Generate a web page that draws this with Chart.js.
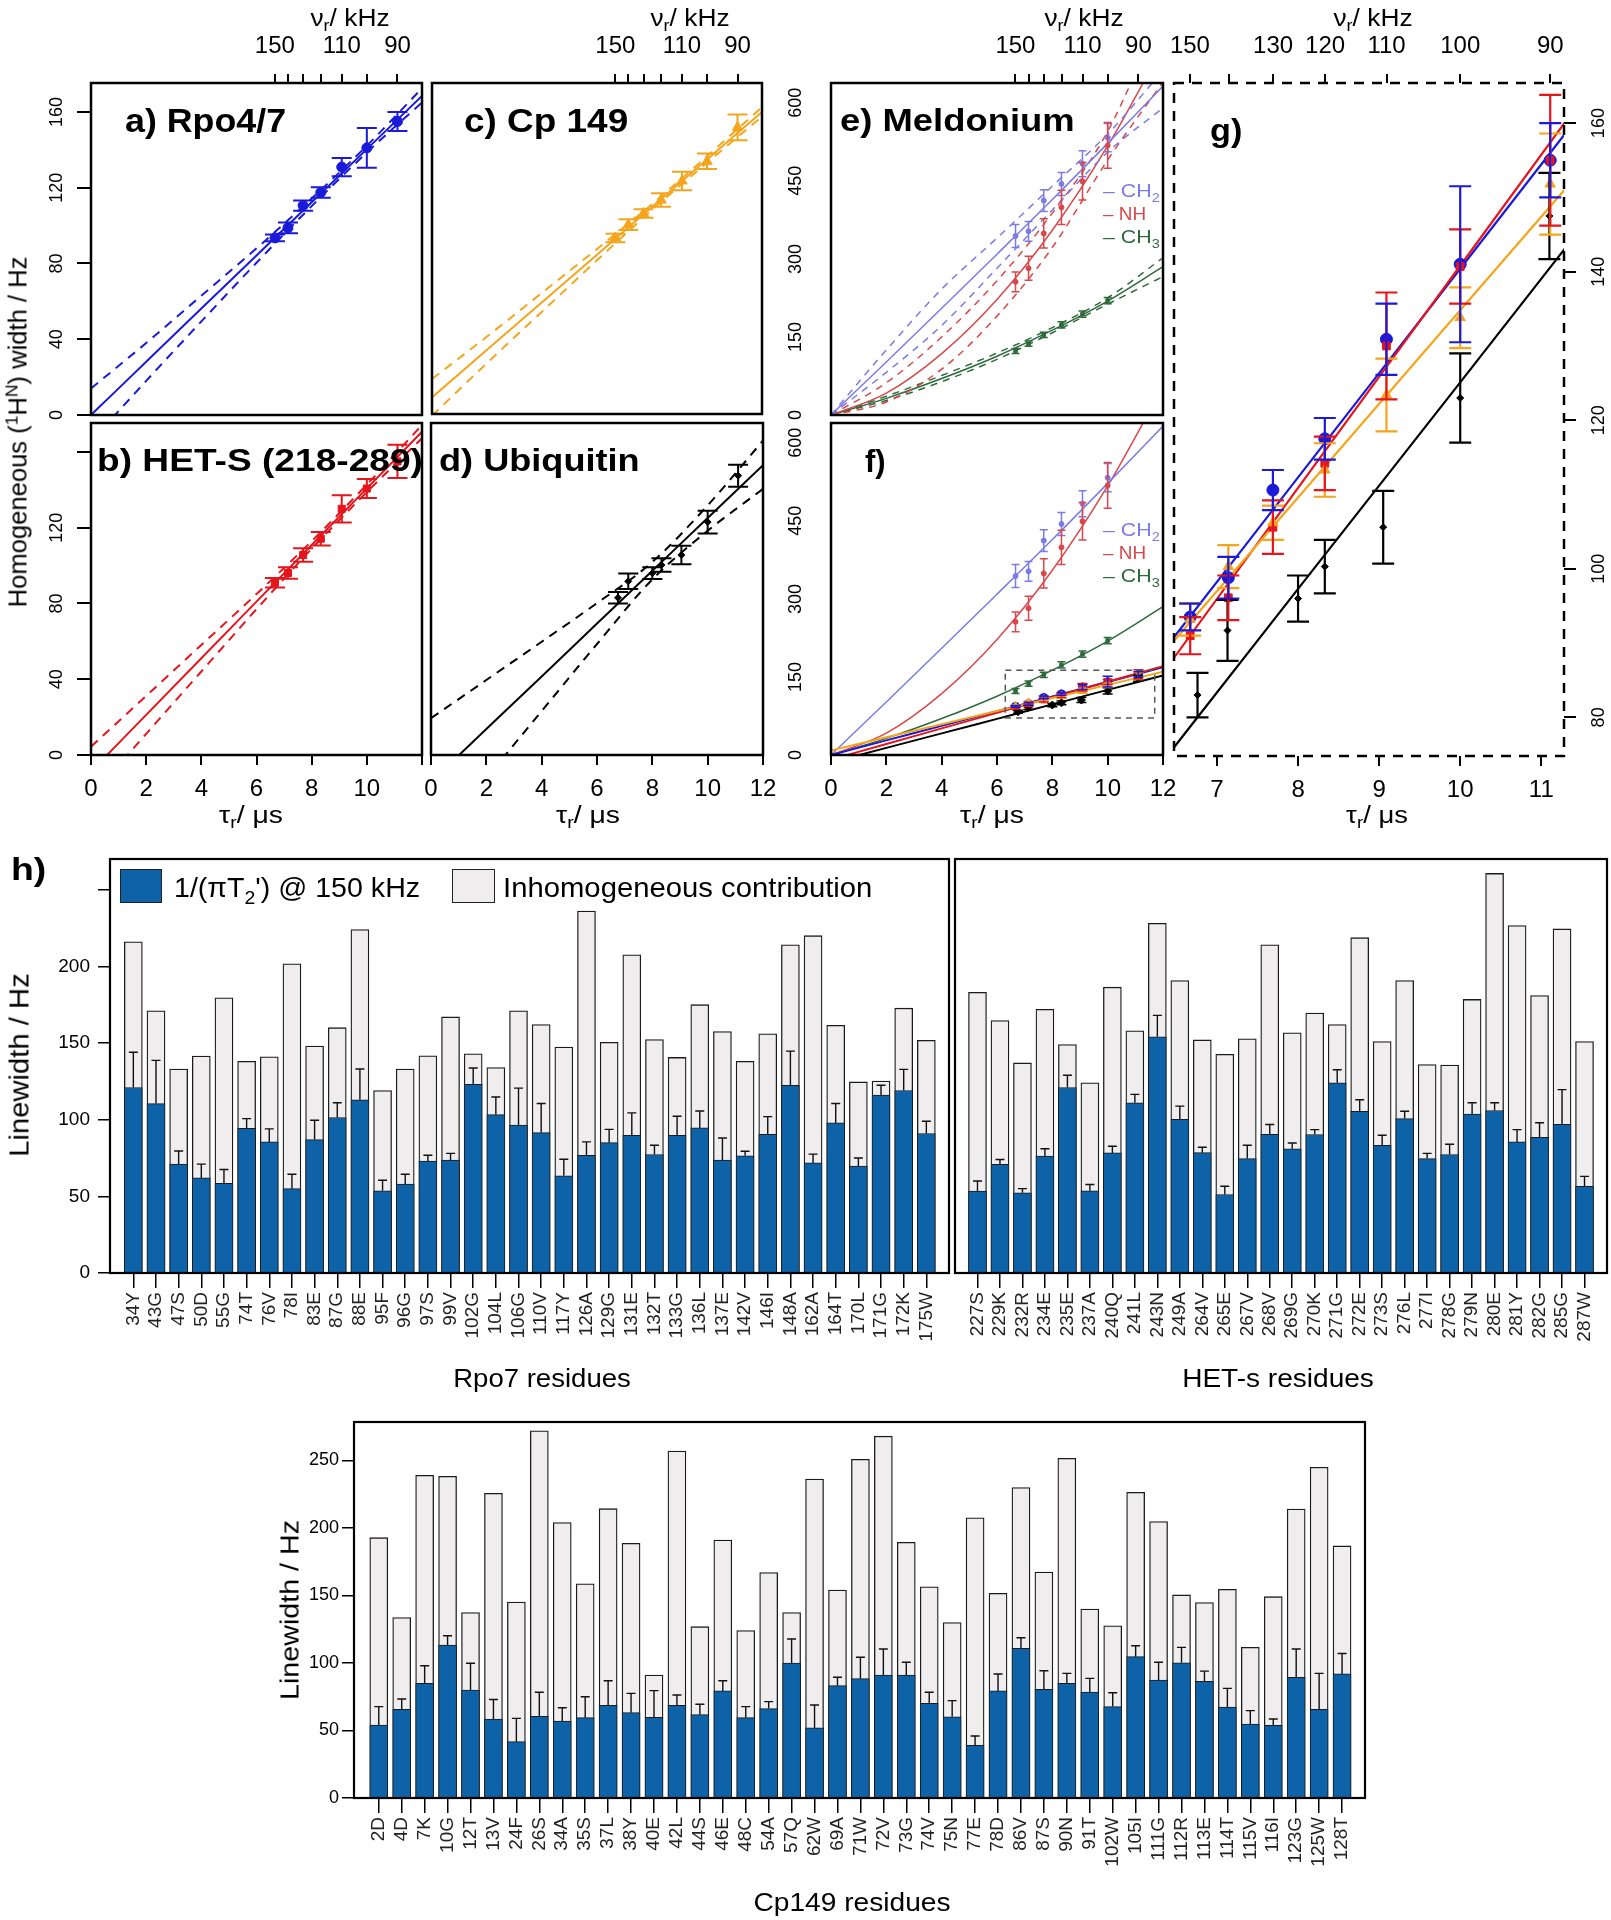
<!DOCTYPE html>
<html>
<head>
<meta charset="utf-8">
<script src="https://cdn.jsdelivr.net/npm/chart.js@4.4.1/dist/chart.umd.min.js"></script>
<style>
  html, body { margin: 0; padding: 0; background: #fff; }
  #page { position: relative; width: 1611px; height: 1920px; overflow: hidden; background: #fff; }
  sub, sup { font-size: 0.68em; line-height: 0; }
</style>
</head>
<body>
<div id="page"></div>
<script>
// ---- data: panels a-g (tau in microseconds, widths in Hz) ----
const kHzTicks = [150, 140, 130, 120, 110, 100, 90];
const tauGrid = [0, 2, 4, 6, 8, 10, 12];
const tauProt = [6.67, 7.14, 7.69, 8.33, 9.09, 10.0, 11.11];
const tauUbi = [6.76, 7.13, 8.0, 8.33, 9.05, 10.0, 11.1];
const tauMel = [6.67, 7.14, 7.69, 8.33, 9.09, 10.0];

const rpoW = [93.5, 98.8, 110.6, 117.5, 130.9, 141.0, 155.0];
const rpoErr = [1.8, 2.8, 2.7, 2.8, 4.8, 10.5, 5.0];
const hetW = [91.0, 96.1, 105.6, 114.2, 130.0, 140.7, 155.0];
const hetErr = [2.5, 3.0, 3.6, 3.6, 7.2, 5.0, 8.8];
const cpW = [93.2, 100.3, 106.2, 113.3, 123.4, 133.8, 151.8];
const cpErr = [2.2, 2.9, 2.3, 3.6, 4.9, 4.1, 6.8];
const ubiW = [83.0, 91.7, 96.0, 100.3, 105.6, 123.0, 147.5];
const ubiErr = [3.0, 4.1, 3.1, 3.6, 4.9, 6.0, 5.8];

const rpoFit = [0, 28.1, 56.2, 84.2, 112.3, 140.4, 168.5];
const rpoUp = [14, 38, 63, 88, 114.3, 142.2, 172.5];
const rpoLo = [-14, 18, 49.4, 80.4, 110.3, 138.6, 165];
const hetFit = [-8.7, 21.2, 51.1, 81.0, 110.9, 140.8, 170.7];
const hetUp = [4.4, 31.2, 58.1, 85, 112.9, 142.8, 174.2];
const hetLo = [-21.8, 11.2, 44.1, 77, 108.9, 138.8, 167.2];
const cpFit = [8.8, 34, 59.2, 84.4, 109.6, 134.8, 160];
const cpUp = [18.5, 41, 64.2, 87.4, 111.1, 136.5, 162.5];
const cpLo = [-0.9, 27, 54.2, 81.4, 108.1, 133.1, 157.5];
const ubiFit = [-14.2, 13.7, 41.5, 69.4, 97.3, 125.1, 153];
const ubiUp = [19.4, 39.6, 59.8, 80.2, 101.9, 131.8, 166];
const ubiLo = [-47.8, -12.2, 23.2, 58.6, 92.7, 118.4, 140.5];

const ch2W = [344, 353, 412, 444, 483, 533];
const ch2Err = [22, 19, 21, 22, 25, 27];
const nhW = [256, 282, 349, 399, 449, 518];
const nhErr = [19, 23, 28, 33, 36, 44];
const ch3W = [123, 137, 154, 173, 194, 220];
const ch3Err = [5, 5, 5, 6, 6, 6];
const ch2Fit = [0, 102, 205, 309, 414, 522, 632];
const ch2Up = [0, 125, 242, 340, 440, 540, 662];
const ch2Lo = [0, 82, 172, 282, 394, 505, 590];
const nhFit = [0, 42, 118, 222, 355, 517, 708];
const nhUp = [0, 62, 150, 258, 388, 545, 780];
const nhLo = [0, 25, 88, 190, 322, 490, 640];
const ch3Fit = [0, 32, 70, 113, 163, 219, 285];
const ch3Up = [0, 36, 76, 119, 168, 225, 302];
const ch3Lo = [0, 28, 64, 107, 158, 213, 266];
const zoomBox = [6.3, 11.7, 71, 163];

// ---- data: panel h (linewidths in Hz) ----
const rpoRes = ['34Y','43G','47S','50D','55G','74T','76V','78I','83E','87G','88E','95F','96G','97S','99V','102G','104L','106G','110V','117Y','126A','129G','131E','132T','133G','136L','137E','142V','146I','148A','162A','164T','170L','171G','172K','175W'];
const rpoHomo = [121,110.5,71,62,58.4,94.4,85.5,55,87,101.4,113,53.6,58,73,73.6,123,103.3,96.4,91.6,63.4,76.8,85,89.8,77.3,89.8,94.6,73.6,76.4,90.5,122.4,71.8,97.9,69.7,116,119,91];
const rpoErrTop = [144,138.7,79.6,71,67.5,100.7,94,64.4,99.6,111,133,60.5,64.4,76.8,78,133.7,114.8,120.6,110.5,74.2,85.5,93.7,104.4,83.3,102.2,105.7,88,79.4,102,144.7,77.5,110.5,75,122.4,132.8,99];
const rpoTotal = [216,171,133,141.5,179.5,138,141,201.6,148,160,224,119,133,141.7,167,143,134,171,162,147.3,236,150.4,207.5,152.3,140.6,175,157.5,138,156,214,220,161.5,124.6,125.2,172.7,151.7];

const hetRes = ['227S','229K','232R','234E','235E','237A','240Q','241L','243N','249A','264V','265E','267V','268V','269G','270K','271G','272E','273S','276L','277I','278G','279N','280E','281Y','282G','285G','287W'];
const hetHomo = [53.4,70.8,52.3,76.2,121,53.6,78.3,111,154,100.3,78.5,51.2,74.6,90.5,81,90.3,124,105.5,83.3,100.7,74.6,77.3,103.6,106,85.5,88.5,97,56.6];
const hetErrTop = [60,74,55,81,129,57.7,82.7,116.5,168,108.8,82,56.6,83.3,96.8,84.8,93.5,132.6,113,89.8,105.5,78,84,111,111,93.5,98,119.6,63];
const hetTotal = [183,164.7,137,172,149,124,186.4,158,228,190.7,152,142.6,152.8,214,156.7,169.5,162,218.7,151,190.7,136,135.6,178.4,260.6,226.6,181,224.4,151];

const cpRes = ['2D','4D','7K','10G','12T','13V','24F','26S','34A','35S','37L','38Y','40E','42L','44S','46E','48C','54A','57Q','62W','69A','71W','72V','73G','74V','75N','77E','78D','86V','87S','90N','91T','102W','105I','111G','112R','113E','114T','115V','116I','123G','125W','128T'];
const cpHomo = [54,65.7,85,113.3,80,58.5,41.7,60.5,57,59.5,68.6,63.2,59.8,68.6,61.7,79.3,59.5,66.2,100,51.9,83.2,88.4,91.1,91.1,70.1,60.2,39,79.3,110.9,80.5,85,78.5,67.7,104.7,87.4,100.2,86.4,67.4,54.8,53.8,89.4,65.7,91.9];
const cpErrTop = [67.7,73.3,98,120.2,99.8,73,59,78.3,66.9,75,86.9,77.5,79.5,76.3,69.4,86.9,67.7,71.4,117.8,68.9,89.4,104.2,110.4,100.5,78.3,72.1,45.9,91.9,118.7,94.3,92.3,88.6,78,112.8,100.5,111.6,94,81.2,64.7,58.5,110.4,92.3,107];
const cpTotal = [192.8,133.6,239,238.3,137.3,225.7,145.2,272,204,158.7,214.3,188.6,91,257,126.9,191,124,167,137.3,236.3,154,250.9,268,189.4,156.5,129.9,207.6,151.6,230,167.4,251.6,140,127.6,226.4,204.7,150.4,144.7,154.6,111.6,149.1,214,245,186.7];
const barTicks = [0, 50, 100, 150, 200, 250];

// ---- styles ----
const FONT = '"Liberation Sans", Arial, Helvetica, sans-serif';
const BLUE = '#1a1ad8', RED = '#e4151c', ORANGE = '#f4a51c', BLACK = '#000000';
const CH2C = '#7b7be6', NHC = '#d8474a', CH3C = '#2e6a3c';
const BARBLUE = '#0e62a7', BARGREY = '#efeded';
const DASH = [9, 7];

Chart.defaults.font.family = FONT;
Chart.defaults.color = '#000';
Chart.defaults.animation = false;
Chart.defaults.events = [];
Chart.defaults.plugins.legend.display = false;
Chart.defaults.plugins.tooltip.enabled = false;

const page = document.getElementById('page');

function holder(x, y, w, h) {
  const d = document.createElement('div');
  d.style.cssText = `position:absolute;left:${x}px;top:${y}px;width:${w}px;height:${h}px;`;
  const c = document.createElement('canvas');
  d.appendChild(c);
  page.appendChild(d);
  return c;
}

function fixSize(size) {
  return s => {
    if (s.isHorizontal()) s.height = size; else s.width = size;
    s.paddingLeft = 0; s.paddingRight = 0; s.paddingTop = 0; s.paddingBottom = 0;
  };
}

// error bars, frames, rotated tick labels
const deco = {
  id: 'deco',
  afterDatasetsDraw(chart) {
    const ctx = chart.ctx, a = chart.chartArea;
    chart.data.datasets.forEach((ds, i) => {
      if (!ds.err && !ds.errTop) return;
      const meta = chart.getDatasetMeta(i);
      const ys = chart.scales[meta.yAxisID];
      const cw = ds.capW || 5;
      ctx.save();
      ctx.beginPath();
      ctx.rect(a.left, a.top - 1, a.width, a.height + 2);
      ctx.clip();
      ctx.strokeStyle = ds.errColor || ds.borderColor;
      ctx.lineWidth = ds.errWidth || 1.5;
      meta.data.forEach((el, j) => {
        const v = ds.data[j].y, x = el.x;
        const lo = ds.err ? v - ds.err[j] : v;
        const hi = ds.err ? v + ds.err[j] : ds.errTop[j];
        const y1 = ys.getPixelForValue(lo), y2 = ys.getPixelForValue(hi);
        ctx.beginPath();
        ctx.moveTo(x, y1); ctx.lineTo(x, y2);
        ctx.moveTo(x - cw, y2); ctx.lineTo(x + cw, y2);
        if (ds.err) { ctx.moveTo(x - cw, y1); ctx.lineTo(x + cw, y1); }
        ctx.stroke();
      });
      ctx.restore();
    });
  },
  afterDraw(chart, args, o) {
    const ctx = chart.ctx, a = chart.chartArea;
    ctx.save();
    if (o.box) {
      const xs = chart.scales.x, ys = chart.scales.y;
      const x0 = xs.getPixelForValue(o.box[0]), x1 = xs.getPixelForValue(o.box[1]);
      const y0 = ys.getPixelForValue(o.box[2]), y1 = ys.getPixelForValue(o.box[3]);
      ctx.strokeStyle = '#555'; ctx.lineWidth = 1.5; ctx.setLineDash([6, 5]);
      ctx.strokeRect(x0, y1, x1 - x0, y0 - y1);
    }
    if (o.frame) {
      ctx.strokeStyle = '#000'; ctx.lineWidth = o.frame.w;
      ctx.setLineDash(o.frame.dash || []);
      ctx.strokeRect(a.left, a.top, a.width, a.height);
    }
    if (o.rot) {
      ctx.setLineDash([]);
      ctx.fillStyle = '#000';
      ctx.font = `${o.rot.size}px ${FONT}`;
      ctx.textAlign = 'center'; ctx.textBaseline = 'middle';
      const s = chart.scales[o.rot.scale || 'y'];
      o.rot.values.forEach(v => {
        ctx.save();
        ctx.translate(o.rot.x, s.getPixelForValue(v));
        ctx.rotate(-Math.PI / 2);
        ctx.fillText(String(v), 0, 0);
        ctx.restore();
      });
    }
    ctx.restore();
  }
};

const pts = (xs, ys) => xs.map((x, i) => ({ x, y: ys[i] }));

function pointsDS(xs, ys, err, color, style, r, capW, errW) {
  return { data: pts(xs, ys), err, showLine: false, pointStyle: style, pointRadius: r,
    backgroundColor: color, borderColor: color, borderWidth: 1, capW, errWidth: errW };
}
function lineDS(xs, ys, color, w, dash) {
  return { data: pts(xs, ys), showLine: true, pointRadius: 0, borderColor: color, borderWidth: w,
    borderDash: dash || [], cubicInterpolationMode: 'monotone', clip: 0, fill: false };
}

function scatterPanel(p) {
  const [L, T, R, B] = p.frame, [ml, mt, mr, mb] = p.m;
  const cx = L - ml, cy = T - mt;
  const canvas = holder(cx, cy, R - L + ml + mr, B - T + mt + mb);
  const tickFont = { size: 24 };
  const scales = {
    x: {
      type: 'linear', position: 'bottom', min: p.xr[0], max: p.xr[1], display: !!p.bottom,
      afterFit: p.bottom ? fixSize(mb) : undefined,
      afterBuildTicks: s => { if (p.bottom) s.ticks = p.bottom.ticks.map(v => ({ value: v })); },
      ticks: { autoSkip: false, maxRotation: 0, font: tickFont, padding: 10,
        callback: v => (p.bottom && p.bottom.labels.includes(v)) ? String(v) : '' },
      grid: { drawOnChartArea: false, tickLength: 10, color: '#000', lineWidth: 2 },
      border: { display: false }
    },
    y: {
      type: 'linear', position: 'left', min: p.yr[0], max: p.yr[1], display: !!p.left,
      afterFit: p.left ? fixSize(ml) : undefined,
      afterBuildTicks: s => { if (p.left) s.ticks = p.left.map(v => ({ value: v })); },
      ticks: { display: false },
      grid: { drawOnChartArea: false, tickLength: 14, color: '#000', lineWidth: 2 },
      border: { display: false }
    }
  };
  if (p.top) {
    scales.x2 = {
      type: 'linear', position: 'top', min: p.xr[0], max: p.xr[1],
      afterFit: fixSize(mt),
      afterBuildTicks: s => { s.ticks = kHzTicks.map(k => ({ value: 1000 / k })); },
      ticks: { autoSkip: false, maxRotation: 0, font: tickFont, padding: 13,
        callback: (v, i) => p.top.includes(kHzTicks[i]) ? String(kHzTicks[i]) : '' },
      grid: { drawOnChartArea: false, tickLength: 9, color: '#000', lineWidth: 2 },
      border: { display: false }
    };
  }
  if (p.right) {
    scales.y2 = {
      type: 'linear', position: 'right', min: p.yr[0], max: p.yr[1],
      afterFit: fixSize(mr),
      afterBuildTicks: s => { s.ticks = p.right.map(v => ({ value: v })); },
      ticks: { display: false },
      grid: { drawOnChartArea: false, tickLength: 12, color: '#000', lineWidth: 2 },
      border: { display: false }
    };
  }
  const rot = p.rot ? Object.assign({}, p.rot, { x: p.rot.x - cx }) : null;
  return new Chart(canvas, {
    type: 'scatter',
    data: { datasets: p.datasets },
    options: {
      responsive: true, maintainAspectRatio: false,
      layout: { padding: { left: p.left ? 0 : ml, top: p.top ? 0 : mt, right: p.right ? 0 : mr, bottom: p.bottom ? 0 : mb } },
      scales,
      plugins: { deco: { frame: { w: 2.5, dash: p.dashed ? [10, 8] : null }, rot, box: p.box || null } }
    },
    plugins: [deco]
  });
}

function barPanel(p) {
  const [L, T, R, B] = p.frame, [ml, mt, mr, mb] = p.m;
  const canvas = holder(L - ml, T - mt, R - L + ml + mr, B - T + mt + mb);
  const idx = p.res.map((r, i) => i);
  return new Chart(canvas, {
    type: 'bar',
    data: {
      datasets: [
        { label: "1/(\u03c0T\u2082') @ 150 kHz", data: pts(idx, p.homo), errTop: p.errTop,
          backgroundColor: BARBLUE, borderColor: '#1b1b1b', borderWidth: 1, grouped: false,
          barThickness: 18, capW: 4.5, errWidth: 1.4, errColor: '#111' },
        { label: 'Inhomogeneous contribution', data: pts(idx, p.total),
          backgroundColor: BARGREY, borderColor: '#1b1b1b', borderWidth: 1.3, grouped: false,
          barThickness: 18 }
      ]
    },
    options: {
      responsive: true, maintainAspectRatio: false,
      layout: { padding: { left: p.showY ? 0 : ml, top: mt, right: mr, bottom: 0 } },
      scales: {
        x: {
          type: 'linear', min: p.xr[0], max: p.xr[1], offset: false,
          afterFit: fixSize(mb),
          afterBuildTicks: s => { s.ticks = idx.map(v => ({ value: v })); },
          ticks: { autoSkip: false, minRotation: 90, maxRotation: 90, font: { size: 19 }, color: '#222',
            padding: 4, callback: v => p.res[v] },
          grid: { offset: false, drawOnChartArea: false, tickLength: 15, color: '#000', lineWidth: 1.5 },
          border: { display: false }
        },
        y: {
          type: 'linear', min: 0, max: p.yMax, display: p.showY,
          afterFit: p.showY ? fixSize(ml) : undefined,
          afterBuildTicks: s => { s.ticks = barTicks.map(v => ({ value: v })); },
          ticks: { font: { size: p.yFont }, padding: p.yPad, callback: v => (p.hide || []).includes(v) ? '' : String(v) },
          grid: { drawOnChartArea: false, tickLength: 12, color: '#000', lineWidth: 1.5 },
          border: { display: false }
        }
      },
      plugins: { deco: { frame: { w: 2.2 } } }
    },
    plugins: [deco]
  });
}

// ---- panels a-g ----
scatterPanel({ frame: [91, 83, 422, 415], m: [91, 83, 6, 6], xr: [0, 12], yr: [0, 175.3],
  left: [0, 40, 80, 120, 160], rot: { values: [0, 40, 80, 120, 160], x: 57, size: 18 }, top: [150, 110, 90],
  datasets: [pointsDS(tauProt, rpoW, rpoErr, BLUE, 'circle', 5, 10, 2),
    lineDS(tauGrid, rpoFit, BLUE, 2), lineDS(tauGrid, rpoUp, BLUE, 2, DASH), lineDS(tauGrid, rpoLo, BLUE, 2, DASH)] });

scatterPanel({ frame: [431, 83, 763, 415], m: [6, 83, 6, 6], xr: [0, 12], yr: [0, 175.3], top: [150, 110, 90],
  datasets: [pointsDS(tauProt, cpW, cpErr, ORANGE, 'triangle', 6, 10, 2),
    lineDS(tauGrid, cpFit, ORANGE, 2), lineDS(tauGrid, cpUp, ORANGE, 2, DASH), lineDS(tauGrid, cpLo, ORANGE, 2, DASH)] });

scatterPanel({ frame: [91, 423, 422, 755], m: [91, 6, 6, 80], xr: [0, 12], yr: [0, 175.3],
  left: [0, 40, 80, 120, 160], rot: { values: [0, 40, 80, 120], x: 57, size: 18 },
  bottom: { ticks: [0, 2, 4, 6, 8, 10, 12], labels: [0, 2, 4, 6, 8, 10] },
  datasets: [pointsDS(tauProt, hetW, hetErr, RED, 'rect', 5, 10, 2),
    lineDS(tauGrid, hetFit, RED, 2), lineDS(tauGrid, hetUp, RED, 2, DASH), lineDS(tauGrid, hetLo, RED, 2, DASH)] });

scatterPanel({ frame: [431, 423, 763, 755], m: [20, 6, 20, 80], xr: [0, 12], yr: [0, 175.3],
  bottom: { ticks: [0, 2, 4, 6, 8, 10, 12], labels: [0, 2, 4, 6, 8, 10, 12] },
  datasets: [pointsDS(tauUbi, ubiW, ubiErr, BLACK, 'rectRot', 3.5, 10, 2),
    lineDS(tauGrid, ubiFit, BLACK, 2), lineDS(tauGrid, ubiUp, BLACK, 2, DASH), lineDS(tauGrid, ubiLo, BLACK, 2, DASH)] });

scatterPanel({ frame: [831, 83, 1163, 415], m: [60, 83, 6, 6], xr: [0, 12], yr: [0, 638],
  rot: { values: [0, 150, 300, 450, 600], x: 796, size: 18 }, top: [150, 110, 90],
  datasets: [
    pointsDS(tauMel, ch2W, ch2Err, CH2C, 'circle', 2.5, 4, 1.5),
    pointsDS(tauMel, nhW, nhErr, NHC, 'circle', 2.5, 4, 1.5),
    pointsDS(tauMel, ch3W, ch3Err, CH3C, 'rect', 2.5, 4, 1.5),
    lineDS(tauGrid, ch2Fit, CH2C, 1.5), lineDS(tauGrid, ch2Up, CH2C, 1.5, [7, 6]), lineDS(tauGrid, ch2Lo, CH2C, 1.5, [7, 6]),
    lineDS(tauGrid, nhFit, NHC, 1.5), lineDS(tauGrid, nhUp, NHC, 1.5, [7, 6]), lineDS(tauGrid, nhLo, NHC, 1.5, [7, 6]),
    lineDS(tauGrid, ch3Fit, CH3C, 1.5), lineDS(tauGrid, ch3Up, CH3C, 1.5, [7, 6]), lineDS(tauGrid, ch3Lo, CH3C, 1.5, [7, 6])] });

scatterPanel({ frame: [831, 423, 1163, 755], m: [60, 6, 20, 80], xr: [0, 12], yr: [0, 638],
  rot: { values: [0, 150, 300, 450, 600], x: 796, size: 18 },
  bottom: { ticks: [0, 2, 4, 6, 8, 10, 12], labels: [0, 2, 4, 6, 8, 10, 12] }, box: zoomBox,
  datasets: [
    pointsDS(tauUbi, ubiW, ubiErr, BLACK, 'rectRot', 4, 5, 1.5),
    pointsDS(tauProt, cpW, cpErr, ORANGE, 'triangle', 5, 5, 1.5),
    pointsDS(tauProt, hetW, hetErr, RED, 'rect', 4, 5, 1.5),
    pointsDS(tauProt, rpoW, rpoErr, BLUE, 'circle', 4, 5, 1.5),
    pointsDS(tauMel, ch2W, ch2Err, CH2C, 'circle', 2.5, 4, 1.5),
    pointsDS(tauMel, nhW, nhErr, NHC, 'circle', 2.5, 4, 1.5),
    pointsDS(tauMel, ch3W, ch3Err, CH3C, 'rect', 2.5, 4, 1.5),
    lineDS(tauGrid, ubiFit, BLACK, 2), lineDS(tauGrid, cpFit, ORANGE, 2),
    lineDS(tauGrid, hetFit, RED, 2), lineDS(tauGrid, rpoFit, BLUE, 2),
    lineDS(tauGrid, ch2Fit, CH2C, 1.5), lineDS(tauGrid, nhFit, NHC, 1.5), lineDS(tauGrid, ch3Fit, CH3C, 1.5)] });

scatterPanel({ frame: [1173, 83, 1564, 756], m: [6, 83, 47, 80], xr: [6.47, 11.28], yr: [74.8, 165.4],
  right: [80, 100, 120, 140, 160], rot: { values: [80, 100, 120, 140, 160], x: 1599, size: 18, scale: 'y2' },
  top: [150, 130, 120, 110, 100, 90], dashed: true,
  bottom: { ticks: [7, 8, 9, 10, 11], labels: [7, 8, 9, 10, 11] },
  datasets: [
    pointsDS(tauUbi, ubiW, ubiErr, BLACK, 'rectRot', 3.5, 11, 2.2),
    pointsDS(tauProt, cpW, cpErr, ORANGE, 'triangle', 6, 11, 2.2),
    pointsDS(tauProt, hetW, hetErr, RED, 'rect', 5.5, 11, 2.2),
    pointsDS(tauProt, rpoW, rpoErr, BLUE, 'circle', 6, 11, 2.2),
    lineDS(tauGrid, ubiFit, BLACK, 2.2), lineDS(tauGrid, cpFit, ORANGE, 2.2),
    lineDS(tauGrid, hetFit, RED, 2.2), lineDS(tauGrid, rpoFit, BLUE, 2.2)] });

// ---- panel h ----
barPanel({ frame: [110, 859, 949, 1273], m: [100, 10, 10, 100], res: rpoRes, homo: rpoHomo, errTop: rpoErrTop,
  total: rpoTotal, xr: [-1.03, 36.0], yMax: 270, showY: true, yPad: 8, yFont: 19, hide: [250] });
barPanel({ frame: [955, 859, 1607, 1273], m: [10, 10, 4, 100], res: hetRes, homo: hetHomo, errTop: hetErrTop,
  total: hetTotal, xr: [-1.0, 28.0], yMax: 270, showY: false, yPad: 8, yFont: 19 });
barPanel({ frame: [354, 1422, 1365, 1798], m: [100, 10, 10, 100], res: cpRes, homo: cpHomo, errTop: cpErrTop,
  total: cpTotal, xr: [-1.08, 43.0], yMax: 278.5, showY: true, yPad: 3, yFont: 18 });

// ---- text ----
function label(html, o) {
  const d = document.createElement('div');
  d.innerHTML = html;
  d.style.cssText = `position:absolute;white-space:nowrap;line-height:1;font-family:${FONT};` +
    `font-size:${o.size}px;font-weight:${o.bold ? 700 : 400};color:${o.color || '#000'};left:${o.x}px;top:${o.y}px;`;
  page.appendChild(d);
  const s = o.w ? o.w / d.offsetWidth : 1;
  if (o.base) {
    d.style.top = (o.y - 0.85 * o.size) + 'px';
    d.style.transformOrigin = '0 0';
    d.style.transform = `scaleX(${s})`;
  } else if (o.left) {
    d.style.top = (o.y - 0.5 * o.size) + 'px';
    d.style.transformOrigin = '0 50%';
    d.style.transform = `scaleX(${s})`;
  } else {
    d.style.transform = `translate(-50%,-50%)${o.rot ? ' rotate(-90deg)' : ''} scaleX(${s})`;
  }
  return d;
}
function swatch(x, y, w, h, color) {
  const d = document.createElement('div');
  d.style.cssText = `position:absolute;left:${x}px;top:${y}px;width:${w}px;height:${h}px;` +
    `background:${color};border:1.5px solid #222;box-sizing:border-box;`;
  page.appendChild(d);
}

[350, 690, 1084, 1373].forEach(x => label('\u03bd<sub>r</sub>/ kHz', { x, y: 18, size: 23, w: 79 }));
[[251, 64], [588, 64], [992, 64], [1377, 62]].forEach(([x, w]) => label('\u03c4<sub>r</sub>/ \u03bcs', { x, y: 815, size: 23, w }));
label('Homogeneous (<sup>1</sup>H<sup>N</sup>) width / Hz', { x: 18, y: 432, size: 25, w: 351, rot: true });

label('a) Rpo4/7', { x: 125, y: 131.7, size: 34, bold: true, w: 161, base: true });
label('c) Cp 149', { x: 464, y: 131.7, size: 34, bold: true, w: 164, base: true });
label('b) HET-S (218-289)', { x: 97, y: 470.7, size: 32, bold: true, w: 326, base: true });
label('d) Ubiquitin', { x: 439, y: 470.7, size: 32, bold: true, w: 201, base: true });
label('e) Meldonium', { x: 840, y: 131.7, size: 31, bold: true, w: 235, base: true });
label('f)', { x: 865, y: 472, size: 31, bold: true, w: 21, base: true });
label('g)', { x: 1210, y: 141, size: 31, bold: true, w: 32, base: true });
label('h)', { x: 11, y: 880, size: 31, bold: true, w: 35, base: true });

// meldonium legends (e and f)
[[191, 214, 237], [530, 553, 576]].forEach(ys => {
  label('\u2013 CH<sub>2</sub>', { x: 1103, y: ys[0], size: 18, w: 57, left: true, color: CH2C });
  label('\u2013 NH', { x: 1103, y: ys[1], size: 18, w: 43, left: true, color: NHC });
  label('\u2013 CH<sub>3</sub>', { x: 1103, y: ys[2], size: 18, w: 57, left: true, color: CH3C });
});

// bar legend
swatch(120, 869, 42, 34, BARBLUE);
label("1/(\u03c0T<sub>2</sub>') @ 150 kHz", { x: 174, y: 888, size: 28, w: 246, left: true });
swatch(452, 869, 43, 34, BARGREY);
label('Inhomogeneous contribution', { x: 503, y: 888, size: 28, w: 369, left: true });

label('Rpo7 residues', { x: 542, y: 1378, size: 26, w: 178 });
label('HET-s residues', { x: 1278, y: 1378, size: 26, w: 192 });
label('Cp149 residues', { x: 852, y: 1902, size: 26, w: 197 });
label('Linewidth / Hz', { x: 20, y: 1065, size: 27, w: 184, rot: true });
label('Linewidth / Hz', { x: 290, y: 1610, size: 25, w: 180, rot: true });
</script>
</body>
</html>
